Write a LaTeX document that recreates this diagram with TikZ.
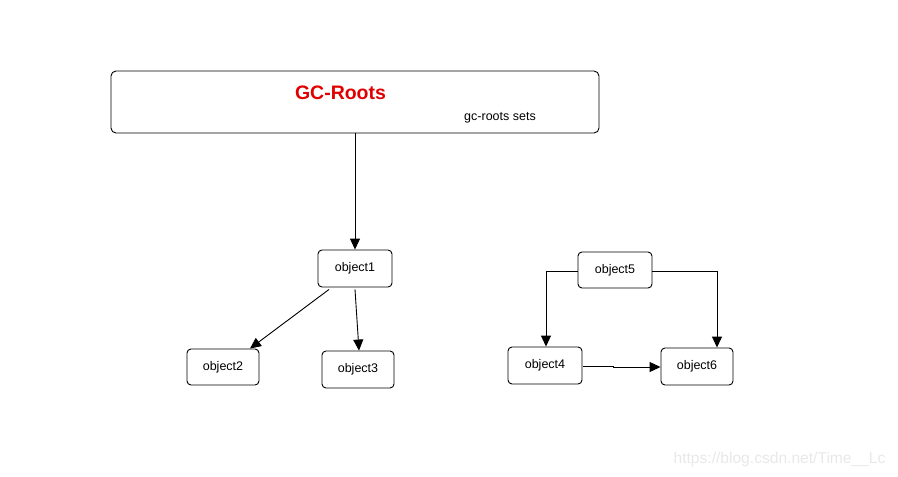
\documentclass[tikz,border=0pt]{standalone}
\usepackage{fontspec}
\setmainfont{Liberation Sans}
\usetikzlibrary{arrows.meta}
\definecolor{gcred}{RGB}{224,0,0}
\definecolor{wm}{RGB}{232,232,232}
\tikzset{
  objbox/.style={draw=black, line width=0.9pt, rounded corners=4pt, minimum width=72pt, minimum height=36pt, inner sep=0pt, font=\fontsize{12.5}{14}\selectfont},
  conn/.style={draw=black, line width=0.9pt, -{Triangle[length=11pt,width=10pt]}}
}
\begin{document}
\begin{tikzpicture}[x=1pt,y=-1pt]
\useasboundingbox (0,0) rectangle (898,477);
\node[draw=black, line width=0.9pt, rounded corners=5pt, minimum width=488pt, minimum height=62pt, inner sep=0pt] (roots) at (355,102) {};
\node[text=gcred, font=\fontsize{19.5}{22}\bfseries\selectfont] (title) at (340.5,93) {GC-Roots};
\node[font=\fontsize{12.5}{14}\selectfont] (sets) at (500,117.5) {gc-roots sets};
\node[objbox, minimum width=74pt, minimum height=37pt] (o1) at (355,268.5) {object1};
\node[objbox] (o2) at (223,367) {object2};
\node[objbox, minimum height=37pt] (o3) at (358,369.5) {object3};
\node[objbox, minimum width=74pt] (o5) at (615,270) {object5};
\node[objbox, minimum width=74pt, minimum height=37pt] (o4) at (545,365.5) {object4};
\node[objbox, minimum height=37pt] (o6) at (697,366.5) {object6};
\coordinate (c1) at (546,271);
\coordinate (c2) at (717,271);
\coordinate (c3) at (613,366);
\coordinate (c4) at (613,367);
\draw[conn] (roots.south) -- (o1.north);
\draw[conn] ([xshift=-26pt,yshift=-2pt]o1.south) -- ([xshift=27pt]o2.north);
\draw[conn] ([yshift=-2pt]o1.south) -- ([xshift=1pt]o3.north);
\draw[conn] (o5.west |- c1) -- (c1) -- (c1 |- o4.north);
\draw[conn] (o5.east |- c2) -- (c2) -- (c2 |- o6.north);
\draw[conn] ([xshift=1pt]o4.east |- c3) -- (c3) -- (c4) -- (o6.west |- c4);
\node[text=wm, font=\fontsize{15.6}{17}\selectfont, anchor=east] (wmark) at (889,459.5) {https://blog.csdn.net/Time\_\_Lc};
\end{tikzpicture}
\end{document}
